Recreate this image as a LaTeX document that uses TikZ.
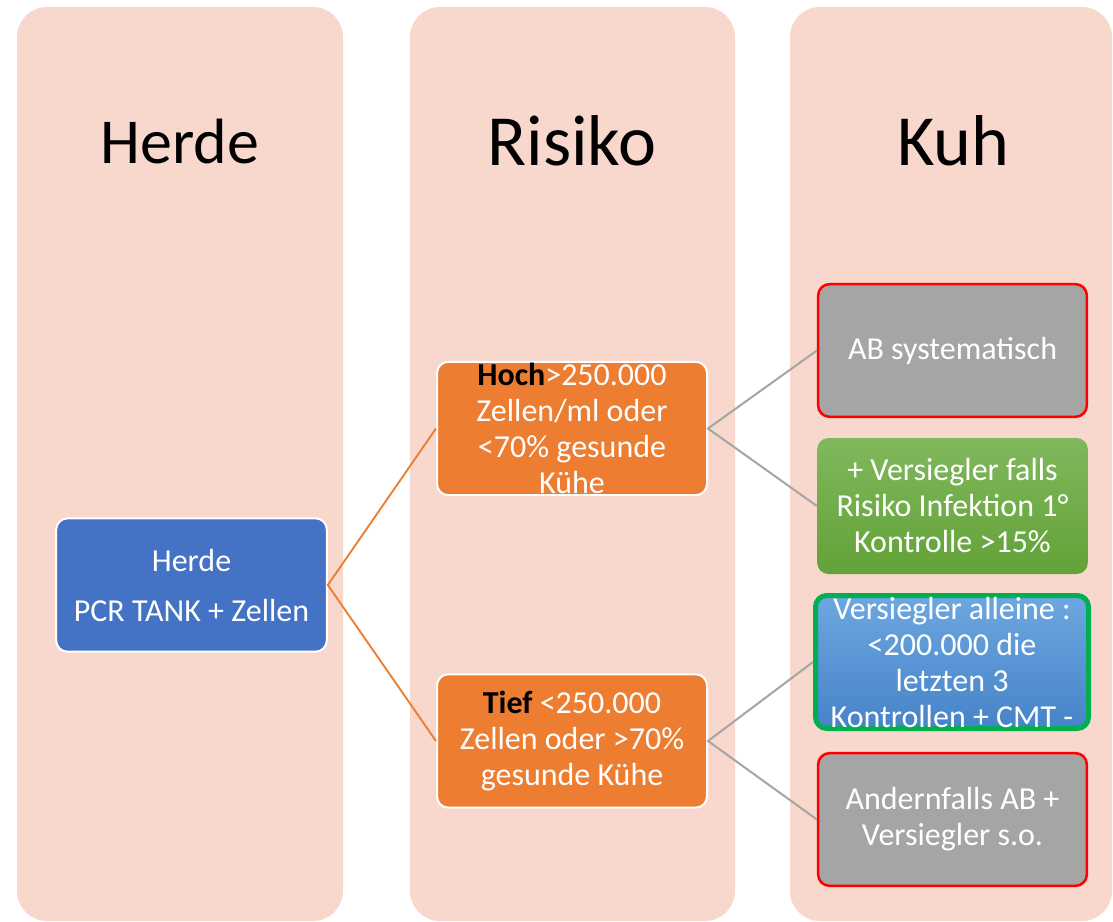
\documentclass[tikz,border=0pt]{standalone}
\usepackage{fontspec}
\setmainfont{Carlito}
\usetikzlibrary{positioning}

\definecolor{spaltefill}{HTML}{F8D7CD}
\definecolor{herdeblau}{HTML}{4472C4}
\definecolor{risikoorange}{HTML}{ED7D31}
\definecolor{kuhgrau}{HTML}{A5A5A5}
\definecolor{gruenoben}{HTML}{80B85C}
\definecolor{gruenunten}{HTML}{62A237}
\definecolor{blauoben}{HTML}{6CA7E0}
\definecolor{blauunten}{HTML}{4783C9}
\definecolor{randgruen}{HTML}{00B050}

\tikzset{
  spalte/.style={fill=spaltefill, rounded corners=22.5pt},
  kopf/.style={anchor=base, text=black},
  kasten/.style={rounded corners=8.5pt, align=center, text=white, inner sep=0pt,
    font=\fontsize{24}{27}\selectfont},
  herdekasten/.style={kasten, fill=herdeblau, draw=white, line width=1.5pt,
    minimum width=203pt, minimum height=100pt},
  risikokasten/.style={kasten, fill=risikoorange, draw=white, line width=1.5pt,
    minimum width=202.5pt, minimum height=100pt},
  graukasten/.style={kasten, fill=kuhgrau, draw=red, line width=1.9pt,
    minimum width=201.5pt, minimum height=99.5pt},
  gruenkasten/.style={kasten, top color=gruenoben, bottom color=gruenunten,
    minimum width=203pt, minimum height=102pt},
  blaukasten/.style={kasten, top color=blauoben, bottom color=blauunten,
    draw=randgruen, line width=3.75pt, minimum width=204.75pt, minimum height=99.75pt},
  orangelinie/.style={draw=risikoorange, line width=1.4pt},
  graulinie/.style={draw=kuhgrau, line width=1.5pt}
}

\begin{document}
\begin{tikzpicture}[x=0.75pt, y=-0.75pt]
  \fill[white] (0,0) rectangle (1113,921);
  \useasboundingbox (0,0) rectangle (1113,921);

  \fill[spalte] (17,7) rectangle (343,921);
  \fill[spalte] (410,7) rectangle (735,921);
  \fill[spalte] (790,7) rectangle (1112,921);

  \node[kopf, font=\fontsize{48}{58}\selectfont] (kherde) at (180,163) {Herde};
  \node[kopf, font=\fontsize{54}{65}\selectfont] (krisiko) at (572,165) {Risiko};
  \node[kopf, font=\fontsize{54}{65}\selectfont] (kkuh) at (953,165) {Kuh};

  \node[herdekasten] (herde) at (191.5,585) {Herde\\[10.5pt]PCR TANK + Zellen};

  \node[risikokasten] (hoch) at (572,428.5)
    {{\color{black}\bfseries Hoch}>250.000\\Zellen/ml oder\\<70\% gesunde\\Kühe};
  \node[risikokasten] (tief) at (572,741)
    {{\color{black}\bfseries Tief} <250.000\\Zellen oder >70\%\\gesunde Kühe};

  \node[graukasten] (ab) at (952.5,350.5) {AB systematisch};
  \node[gruenkasten] (versiegler) at (952.5,506)
    {+ Versiegler falls\\Risiko Infektion 1°\\Kontrolle >15\%};
  \node[blaukasten] (alleine) at (952,662)
    {Versiegler alleine :\\<200.000 die\\letzten 3\\Kontrollen + CMT -};
  \node[graukasten] (andern) at (952.5,819.5) {Andernfalls AB +\\Versiegler s.o.};

  \draw[orangelinie] (hoch.west) -- (herde.east) -- (tief.west);
  \draw[graulinie] (ab.west) -- (hoch.east) -- (versiegler.west);
  \draw[graulinie] (alleine.west) -- (tief.east) -- (andern.west);
\end{tikzpicture}
\end{document}
